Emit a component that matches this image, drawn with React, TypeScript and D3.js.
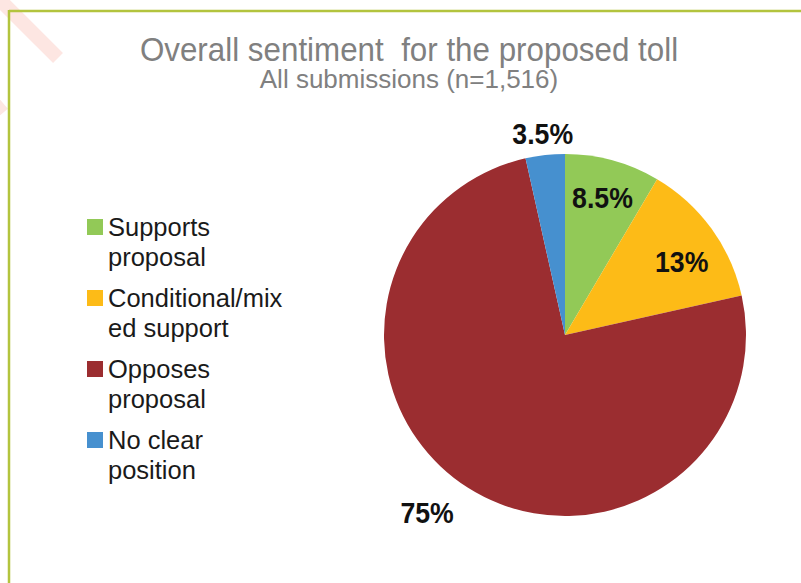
import React from "react";
import * as d3 from "d3";

const categories = ["Supports proposal", "Conditional/mixed support", "Opposes proposal", "No clear position"];
const legendLines = [["Supports", "proposal"], ["Conditional/mix", "ed support"], ["Opposes", "proposal"], ["No clear", "position"]];
const values = [8.5, 13, 75, 3.5];
const valueLabels = ["8.5%", "13%", "75%", "3.5%"];
const colors = ["#92C957", "#FDBB17", "#9B2D30", "#4690CF"];

const W = 801, H = 583;
const cx = 565, cy = 335, R = 181;
const labelRadius = [0.785, 0.762, 1.243, 1.12];
const labelAngleNudge = [0, 3.8, 5.4, 0];

export default function App() {
  const pie = d3.pie<number>().sort(null).value((d) => d);
  const arcs = pie(values);
  const arc = d3.arc<d3.PieArcDatum<number>>().innerRadius(0).outerRadius(R);
  const font = "'Liberation Sans', Arial, Helvetica, sans-serif";

  return (
    <svg width={W} height={H} style={{ position: "absolute", left: 0, top: 0, background: "#fff" }}>
      <rect x={0} y={0} width={W} height={H} fill="#fff" />
      {/* faint watermark stroke */}
      <line x1={-4} y1={-4} x2={58} y2={58} stroke="#fde6e2" strokeWidth={14} />
      <line x1={-6} y1={100} x2={4} y2={112} stroke="#fde6e2" strokeWidth={10} />
      {/* frame */}
      <line x1={9} y1={11} x2={W} y2={11} stroke="#B3C43E" strokeWidth={2.5} />
      <line x1={9} y1={10} x2={9} y2={H} stroke="#B3C43E" strokeWidth={2.5} />

      <g transform="translate(409,61) scale(0.95,1)">
        <text x={0} y={0} textAnchor="middle" fontFamily={font} fontSize={33} fill="#808080" style={{ whiteSpace: "pre" }}>
          {"Overall sentiment  for the proposed toll"}
        </text>
      </g>
      <text x={409} y={88} textAnchor="middle" fontFamily={font} fontSize={26} fill="#808080">
        All submissions (n=1,516)
      </text>

      <g transform={`translate(${cx},${cy})`}>
        {arcs.map((a, i) => (
          <path key={categories[i]} d={arc(a) || ""} fill={colors[i]} />
        ))}
        {arcs.map((a, i) => {
          const mid = (a.startAngle + a.endAngle) / 2 + (labelAngleNudge[i] * Math.PI) / 180;
          const r = labelRadius[i] * R;
          const x = r * Math.sin(mid);
          const y = -r * Math.cos(mid);
          return (
            <g key={"l" + i} transform={`translate(${x},${y + 10.5}) scale(0.92,1)`}>
              <text x={0} y={0} textAnchor="middle" fontFamily={font} fontWeight="bold" fontSize={29} fill="#111">
                {valueLabels[i]}
              </text>
            </g>
          );
        })}
      </g>

      {legendLines.map((lines, i) => {
        const base = 236 + i * 71;
        return (
          <g key={"leg" + i}>
            <rect x={87} y={base - 17} width={16} height={16} fill={colors[i]} />
            {lines.map((t, j) => (
              <text key={j} x={108} y={base + j * 29.5} fontFamily={font} fontSize={25.5} fill="#1a1a1a">
                {t}
              </text>
            ))}
          </g>
        );
      })}
    </svg>
  );
}
